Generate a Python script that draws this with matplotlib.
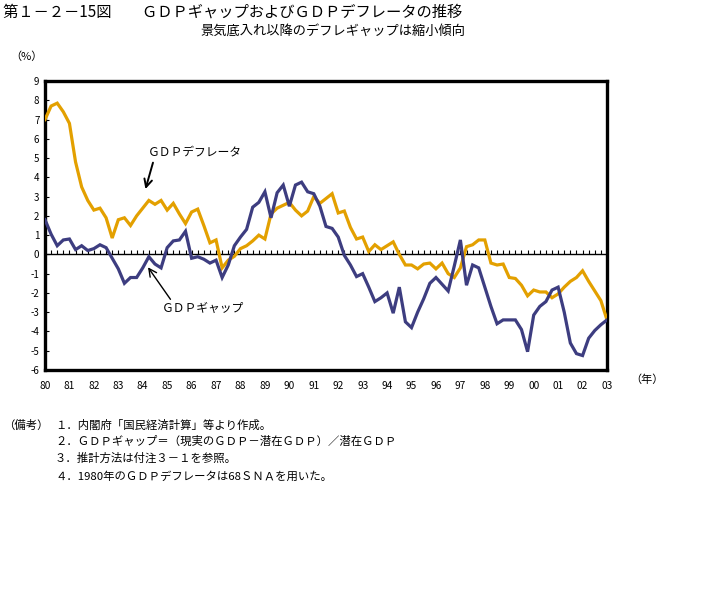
import matplotlib
matplotlib.use("Agg")
import matplotlib.pyplot as plt
import numpy as np

plt.rcParams['font.family'] = ['Noto Sans CJK JP', 'DejaVu Sans']

# Quarterly data, 1980Q1 - 2003Q1
deflator = [
    7.0, 7.7, 7.85, 7.4,      # 1980
    6.8, 4.8, 3.5, 2.8,       # 1981
    2.3, 2.4, 1.9, 0.85,      # 1982
    1.8, 1.9, 1.5, 2.0,       # 1983
    2.4, 2.8, 2.6, 2.8,       # 1984
    2.3, 2.65, 2.1, 1.6,      # 1985
    2.2, 2.35, 1.5, 0.6,      # 1986
    0.75, -0.7, -0.3, -0.1,   # 1987
    0.3, 0.45, 0.7, 1.0,      # 1988
    0.8, 2.1, 2.4, 2.55,      # 1989
    2.7, 2.3, 2.0, 2.25,      # 1990
    3.0, 2.65, 2.9, 3.15,     # 1991
    2.15, 2.25, 1.4, 0.8,     # 1992
    0.9, 0.15, 0.5, 0.25,     # 1993
    0.45, 0.65, 0.0, -0.55,   # 1994
    -0.55, -0.75, -0.5, -0.45,  # 1995
    -0.75, -0.45, -1.0, -1.2,   # 1996
    -0.7, 0.4, 0.5, 0.75,       # 1997
    0.75, -0.45, -0.55, -0.5,   # 1998
    -1.2, -1.25, -1.6, -2.15,   # 1999
    -1.85, -1.95, -1.95, -2.25, # 2000
    -2.05, -1.7, -1.4, -1.2,    # 2001
    -0.85, -1.4, -1.9, -2.4,    # 2002
    -3.4,                       # 2003
]

gdp_gap = [
    1.8, 1.05, 0.45, 0.75,      # 1980
    0.8, 0.25, 0.45, 0.2,       # 1981
    0.3, 0.5, 0.35, -0.2,       # 1982
    -0.75, -1.5, -1.2, -1.2,    # 1983
    -0.7, -0.12, -0.5, -0.7,    # 1984
    0.35, 0.7, 0.75, 1.2,       # 1985
    -0.2, -0.12, -0.25, -0.45,  # 1986
    -0.3, -1.2, -0.55, 0.45,    # 1987
    0.9, 1.3, 2.45, 2.7,        # 1988
    3.25, 1.9, 3.2, 3.6,        # 1989
    2.5, 3.6, 3.75, 3.25,       # 1990
    3.15, 2.5, 1.45, 1.35,      # 1991
    0.9, -0.05, -0.55, -1.15,   # 1992
    -1.0, -1.7, -2.45, -2.25,   # 1993
    -2.0, -3.05, -1.7, -3.5,    # 1994
    -3.8, -3.0, -2.3, -1.5,     # 1995
    -1.2, -1.55, -1.9, -0.6,    # 1996
    0.75, -1.6, -0.55, -0.7,    # 1997
    -1.7, -2.7, -3.6, -3.4,     # 1998
    -3.4, -3.4, -3.9, -5.05,    # 1999
    -3.15, -2.7, -2.45, -1.85,  # 2000
    -1.7, -3.0, -4.6, -5.15,    # 2001
    -5.25, -4.35, -3.95, -3.65, # 2002
    -3.4,                       # 2003
]

start_year = 1980
years = list(range(1980, 2004))
year_labels = ['80', '81', '82', '83', '84', '85', '86', '87', '88', '89', '90',
               '91', '92', '93', '94', '95', '96', '97', '98', '99', '00', '01',
               '02', '03']
y_ticks = list(range(-6, 10))

t = start_year + np.arange(len(deflator)) / 4.0

W, H = 712, 589
fig = plt.figure(figsize=(W / 100, H / 100), dpi=100)

def fx(px):
    return px / W

def fy(py):
    return 1 - py / H

ax = fig.add_axes([fx(45), fy(370), fx(607) - fx(45), fy(81) - fy(370)])

orange = '#E3A000'
navy = '#3D3D80'

ax.plot(t, deflator, color=orange, lw=2.3, solid_joinstyle='miter', zorder=3)
ax.plot(t, gdp_gap, color=navy, lw=2.3, solid_joinstyle='miter', zorder=4)

ax.set_xlim(1980, 2003)
ax.set_ylim(-6, 9)

for s in ax.spines.values():
    s.set_linewidth(2.4)
    s.set_color('black')

ax.set_yticks(y_ticks)
ax.set_yticklabels([str(v) for v in y_ticks], fontsize=7)
ax.tick_params(axis='y', direction='in', length=3, width=0.8, pad=4)

ax.set_xticks(years)
ax.set_xticklabels(year_labels, fontsize=7.3)
ax.tick_params(axis='x', length=0, pad=8)

# zero line with quarterly ticks
ax.axhline(0, color='black', lw=1.0, zorder=2)
sec = ax.secondary_xaxis(0.4)
sec.spines['bottom'].set_visible(False)
sec.xaxis.set_ticks_position('bottom')
sec.set_xticks(t)
sec.tick_params(axis='x', direction='in', length=3, width=0.8, labelbottom=False)

# annotations
ax.annotate('', xy=(1984.08, 3.25), xytext=(1984.45, 4.9),
            arrowprops=dict(arrowstyle='->', color='black', lw=1.4,
                            mutation_scale=14))
ax.text(1984.2, 5.3, 'ＧＤＰデフレータ', fontsize=8.5, ha='left', va='center')
ax.annotate('', xy=(1984.15, -0.55), xytext=(1985.2, -2.45),
            arrowprops=dict(arrowstyle='->', color='black', lw=1.0,
                            mutation_scale=14))
ax.text(1984.8, -2.8, 'ＧＤＰギャップ', fontsize=8.5, ha='left', va='center')

# titles and texts
fig.text(fx(3), fy(12), '第１－２－15図　　ＧＤＰギャップおよびＧＤＰデフレータの推移',
         fontsize=11, ha='left', va='center')
fig.text(fx(200), fy(31), '景気底入れ以降のデフレギャップは縮小傾向',
         fontsize=9.5, ha='left', va='center')
fig.text(fx(10), fy(57), '（%）', fontsize=8, ha='left', va='center')
fig.text(fx(630), fy(380), '（年）', fontsize=8, ha='left', va='center')

notes_y = [425, 441, 458, 477]
fig.text(fx(3), fy(notes_y[0]), '（備考）', fontsize=8.2, ha='left', va='center')
notes = ['１．内閣府「国民経済計算」等より作成。',
         '２．ＧＤＰギャップ＝（現実のＧＤＰ－潜在ＧＤＰ）／潜在ＧＤＰ',
         '３．推計方法は付注３－１を参照。',
         '４．1980年のＧＤＰデフレータは68ＳＮＡを用いた。']
for yy, s in zip(notes_y, notes):
    fig.text(fx(55), fy(yy), s, fontsize=8.2, ha='left', va='center')

fig.savefig('out.png', dpi=100)
